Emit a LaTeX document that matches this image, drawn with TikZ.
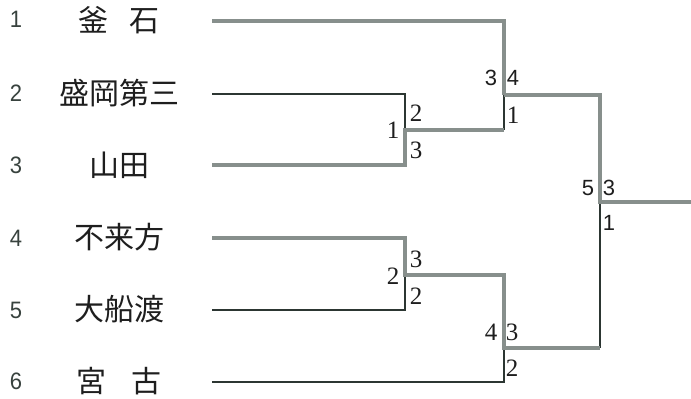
\documentclass[tikz,border=0pt]{standalone}
\usepackage{fontspec}
\newfontfamily\cjk{Noto Sans CJK JP}
\newfontfamily\sansdig{Liberation Sans}
\newfontfamily\serifdig{Liberation Serif}
\definecolor{thickc}{HTML}{878F8C}
\definecolor{thinc}{HTML}{2C3632}
\definecolor{numc}{HTML}{38423E}
\definecolor{txtc}{HTML}{1E1E1E}
\tikzset{
  win/.style={draw=thickc,line width=4pt,line join=miter},
  lose/.style={draw=thinc,line width=1.6pt,line join=miter},
  teamname/.style={inner sep=0pt,font=\cjk\fontsize{30}{30}\selectfont,text=txtc},
  teamnum/.style={inner sep=0pt,font=\sansdig\fontsize{22}{22}\selectfont,text=numc,yscale=1.08,transform shape},
  sc/.style={inner sep=0pt,font=\serifdig\fontsize{25}{25}\selectfont,text=txtc},
  scs/.style={inner sep=0pt,font=\sansdig\fontsize{22}{22}\selectfont,text=txtc}
}
\begin{document}
\begin{tikzpicture}[x=1pt,y=-1pt]
\useasboundingbox (0,0) rectangle (691,399);
% team numbers
\node[teamnum] (k1) at (16,19) {1};
\node[teamnum] (k2) at (16,93) {2};
\node[teamnum] (k3) at (16,165) {3};
\node[teamnum] (k4) at (16,238) {4};
\node[teamnum] (k5) at (16,310) {5};
\node[teamnum] (k6) at (16,381) {6};
% team names
\node[teamname] (n1) at (119,20) {釜\hspace{0.72em}石};
\node[teamname] (n2) at (119,93) {盛岡第三};
\node[teamname] (n3) at (119,165) {山田};
\node[teamname] (n4) at (119,237) {不来方};
\node[teamname] (n5) at (119,309) {大船渡};
\node[teamname] (n6) at (119,381) {宮\hspace{0.86em}古};
% bracket coordinates
\coordinate (s1) at (212,21);  \coordinate (e1) at (504,21);
\coordinate (s2) at (212,94);  \coordinate (e2) at (405,94);
\coordinate (s3) at (212,165); \coordinate (e3) at (405,165);
\coordinate (s4) at (212,238); \coordinate (e4) at (405,238);
\coordinate (s5) at (212,310); \coordinate (e5) at (405,310);
\coordinate (s6) at (212,382); \coordinate (e6) at (504,382);
\coordinate (m1) at (405,130); \coordinate (m1e) at (504,130);
\coordinate (m2) at (405,275); \coordinate (m2e) at (504,275);
\coordinate (m3) at (504,95);  \coordinate (m3e) at (600,95);
\coordinate (m4) at (504,348); \coordinate (m4e) at (600,348);
\coordinate (m5) at (600,202); \coordinate (fin) at (691,202);
% losing (thin) lines
\draw[lose] (s2) -- (e2) -- (m1);
\draw[lose] (m1e) -- (m3);
\draw[lose] (s5) -- (e5) -- (m2);
\draw[lose] (s6) -- (e6) -- (m4);
\draw[lose] (m4e) -- (m5);
% winning (thick) lines
\draw[win] (s1) -- (e1) -- (m3);
\draw[win] (s3) -- (e3) -- (m1) -- (m1e);
\draw[win] (m3) -- (m3e) -- (m5) -- (fin);
\draw[win] (s4) -- (e4) -- (m2) -- (m2e) -- (m4) -- (m4e);
% scores match 1
\node[sc] (a1) at (393,130) {1};
\node[sc] (a2) at (416,113) {2};
\node[sc] (a3) at (416,150) {3};
% scores match 2
\node[sc] (b1) at (393,276) {2};
\node[sc] (b2) at (416,259) {3};
\node[sc] (b3) at (416,296) {2};
% scores match 3
\node[scs] (c1) at (491,78) {3};
\node[scs] (c2) at (513,78) {4};
\node[sc] (c3) at (513,115) {1};
% scores match 4
\node[sc] (d1) at (491,332) {4};
\node[sc] (d2) at (512,332) {3};
\node[sc] (d3) at (512,368) {2};
% final
\node[scs] (f1) at (588,188) {5};
\node[scs] (f2) at (609,188) {3};
\node[scs] (f3) at (609,223) {1};
\end{tikzpicture}
\end{document}
